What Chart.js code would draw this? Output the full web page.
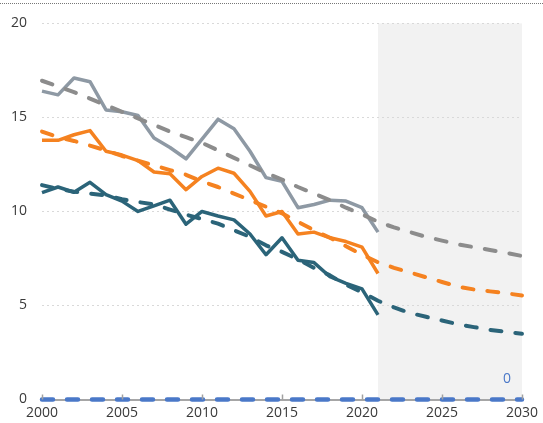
<!DOCTYPE html>
<html>
<head>
<meta charset="utf-8">
<script src="https://cdn.jsdelivr.net/npm/chart.js@4/dist/chart.umd.min.js"></script>
<style>
    html, body { margin: 0; padding: 0; background: #fff; }
    #wrap { position: relative; width: 543px; height: 423px; }
    #topRule { position: absolute; left: 0; top: 3px; width: 543px; border-top: 1px dotted #777; }
</style>
</head>
<body>
<div id="wrap">
    <div id="topRule"></div>
    <canvas id="chart" width="543" height="423"></canvas>
</div>
<script>
// Observed years and projection years
const historyYears = [2000, 2001, 2002, 2003, 2004, 2005, 2006, 2007, 2008, 2009, 2010,
    2011, 2012, 2013, 2014, 2015, 2016, 2017, 2018, 2019, 2020, 2021];
const trendYears = [2000, 2001, 2002, 2003, 2004, 2005, 2006, 2007, 2008, 2009, 2010,
    2011, 2012, 2013, 2014, 2015, 2016, 2017, 2018, 2019, 2020,
    2021, 2022, 2023, 2024, 2025, 2026, 2027, 2028, 2029, 2030];

// Observed series
const graySolid = [16.4, 16.2, 17.1, 16.9, 15.4, 15.3, 15.1, 13.9, 13.4, 12.8, 13.85,
    14.9, 14.4, 13.2, 11.8, 11.6, 10.2, 10.37, 10.6, 10.55, 10.2, 8.9];
const orangeSolid = [13.78, 13.78, 14.08, 14.3, 13.2, 13.0, 12.7, 12.1, 12.0, 11.16, 11.86,
    12.3, 12.03, 11.07, 9.76, 10.0, 8.8, 8.9, 8.6, 8.4, 8.1, 6.7];
const tealSolid = [11.0, 11.3, 11.02, 11.55, 10.9, 10.55, 10.0, 10.3, 10.6, 9.32, 10.0,
    9.76, 9.55, 8.8, 7.7, 8.6, 7.4, 7.28, 6.53, 6.18, 5.88, 4.5];

// Trend / projection series
const grayTrend = [16.95, 16.65, 16.35, 16.0, 15.65, 15.3, 14.95, 14.6, 14.25, 13.95, 13.65,
    13.25, 12.85, 12.45, 12.05, 11.7, 11.3, 10.95, 10.6, 10.2, 9.85,
    9.45, 9.15, 8.9, 8.65, 8.45, 8.25, 8.1, 7.95, 7.8, 7.63];
const orangeTrend = [14.25, 13.95, 13.75, 13.5, 13.25, 12.95, 12.7, 12.45, 12.2, 11.95, 11.6,
    11.3, 10.95, 10.6, 10.25, 9.9, 9.45, 9.0, 8.6, 8.15, 7.7,
    7.3, 7.0, 6.75, 6.5, 6.25, 6.0, 5.85, 5.75, 5.65, 5.53];
const tealTrend = [11.4, 11.2, 11.05, 10.95, 10.85, 10.65, 10.5, 10.38, 10.1, 9.83, 9.6,
    9.35, 9.0, 8.65, 8.2, 7.85, 7.45, 7.0, 6.6, 6.1, 5.7,
    5.25, 4.9, 4.6, 4.4, 4.2, 4.0, 3.85, 3.7, 3.6, 3.5];
const zeroTarget = [0, 0, 0, 0, 0, 0, 0, 0, 0, 0, 0, 0, 0, 0, 0, 0,
    0, 0, 0, 0, 0, 0, 0, 0, 0, 0, 0, 0, 0, 0, 0];

const xTicks = [2000, 2005, 2010, 2015, 2020, 2025, 2030];
const yTicks = [0, 5, 10, 15, 20];
const projectionStart = 2021;
const zeroLabelYear = 2029;

function toPoints(xs, ys) {
    return ys.map((y, i) => ({ x: xs[i], y: y }));
}

const FONT = '"Open Sans", "Noto Sans", sans-serif';

// Grey band behind the projection years
const projectionBand = {
    id: 'projectionBand',
    beforeDraw(chart) {
        const { ctx, chartArea, scales } = chart;
        const x0 = scales.x.getPixelForValue(projectionStart);
        const x1 = scales.x.getPixelForValue(scales.x.max);
        ctx.save();
        ctx.fillStyle = '#f2f2f2';
        ctx.fillRect(x0, chartArea.top, x1 - x0, chartArea.bottom - chartArea.top);
        ctx.restore();
    }
};

// Short tick marks standing up from the baseline, plus the zero label
const axisExtras = {
    id: 'axisExtras',
    afterDraw(chart) {
        const { ctx, chartArea, scales } = chart;
        ctx.save();
        ctx.strokeStyle = '#a0a0a0';
        ctx.lineWidth = 1.5;
        xTicks.forEach(v => {
            const px = Math.round(scales.x.getPixelForValue(v)) + 0.5;
            ctx.beginPath();
            ctx.moveTo(px, chartArea.bottom);
            ctx.lineTo(px, chartArea.bottom - 5);
            ctx.stroke();
        });

        const idx = trendYears.indexOf(zeroLabelYear);
        const val = zeroTarget[idx];
        ctx.fillStyle = '#4a78c8';
        ctx.font = '14px ' + FONT;
        ctx.textAlign = 'center';
        ctx.textBaseline = 'alphabetic';
        ctx.fillText(String(val), scales.x.getPixelForValue(zeroLabelYear) + 1,
            scales.y.getPixelForValue(val) - 17);
        ctx.restore();
    }
};

const dashStyle = { borderDash: [11, 14], borderCapStyle: 'round', borderWidth: 4 };

new Chart(document.getElementById('chart'), {
    type: 'line',
    data: {
        datasets: [
            Object.assign({ data: toPoints(trendYears, zeroTarget), borderColor: '#4a78c8' }, dashStyle, { borderWidth: 4.5 }),
            Object.assign({ data: toPoints(trendYears, tealTrend), borderColor: '#2b6479' }, dashStyle),
            Object.assign({ data: toPoints(trendYears, orangeTrend), borderColor: '#f58220' }, dashStyle),
            Object.assign({ data: toPoints(trendYears, grayTrend), borderColor: '#8c8c8c' }, dashStyle),
            { data: toPoints(historyYears, tealSolid), borderColor: '#2b6479', borderWidth: 3.5 },
            { data: toPoints(historyYears, orangeSolid), borderColor: '#f58220', borderWidth: 3.5 },
            { data: toPoints(historyYears, graySolid), borderColor: '#8e99a4', borderWidth: 3.5 }
        ]
    },
    options: {
        responsive: false,
        animation: false,
        clip: false,
        layout: { padding: { top: 18, right: 18, left: 0, bottom: 0 } },
        elements: {
            point: { radius: 0 },
            line: { tension: 0, borderJoinStyle: 'round', fill: false }
        },
        plugins: {
            legend: { display: false },
            tooltip: { enabled: false }
        },
        scales: {
            x: {
                type: 'linear',
                min: 2000,
                max: 2030,
                afterFit(scale) { scale.height = 23.5; },
                afterBuildTicks(scale) { scale.ticks = xTicks.map(v => ({ value: v })); },
                grid: { display: false, drawTicks: false },
                border: { display: true, color: '#a6a6a6', width: 2 },
                ticks: {
                    padding: 5,
                    color: '#3a3a3a',
                    font: { family: FONT, size: 14 },
                    maxRotation: 0,
                    callback: v => String(v)
                }
            },
            y: {
                min: 0,
                max: 20,
                afterFit(scale) { scale.width = 42; },
                afterBuildTicks(scale) { scale.ticks = yTicks.map(v => ({ value: v })); },
                grid: {
                    drawTicks: false,
                    color: ctx => ctx.tick && ctx.tick.value === 0 ? 'rgba(0,0,0,0)' : '#d9d9d9',
                    lineWidth: 1
                },
                border: { display: false, dash: [2, 3] },
                ticks: {
                    padding: 15,
                    color: '#3a3a3a',
                    font: { family: FONT, size: 14 }
                }
            }
        }
    },
    plugins: [projectionBand, axisExtras]
});
</script>
</body>
</html>
